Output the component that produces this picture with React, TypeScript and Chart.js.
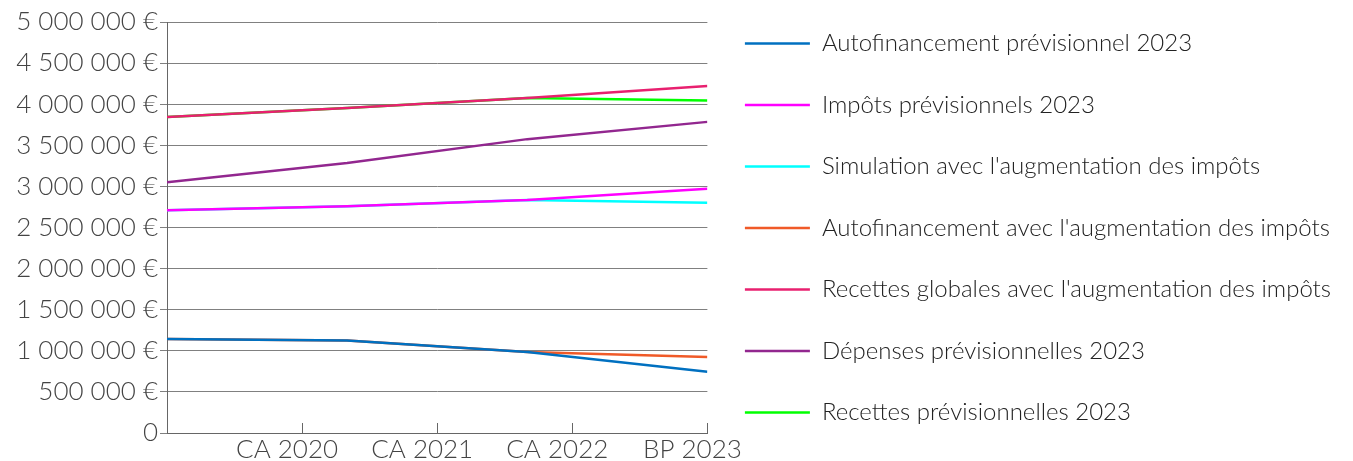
import React, { useEffect, useRef } from "react";
import { Chart, registerables } from "chart.js";

Chart.register(...registerables);

const categories = ["", "CA 2020", "CA 2021", "CA 2022", "BP 2023"];
const pointPositions = [0, 1, 2, 3];

const autofinancementPrev = [1145000, 1125000, 985000, 745000];
const impotsPrev = [2710000, 2760000, 2835000, 2970000];
const simulationImpots = [2710000, 2760000, 2835000, 2800000];
const autofinancementAug = [1145000, 1125000, 985000, 925000];
const recettesGlobalesAug = [3845000, 3955000, 4075000, 4220000];
const depensesPrev = [3050000, 3285000, 3575000, 3785000];
const recettesPrev = [3845000, 3955000, 4075000, 4045000];

const seriesLabels = [
  "Autofinancement prévisionnel 2023",
  "Impôts prévisionnels 2023",
  "Simulation avec l'augmentation des impôts",
  "Autofinancement avec l'augmentation des impôts",
  "Recettes globales avec l'augmentation des impôts",
  "Dépenses prévisionnelles 2023",
  "Recettes prévisionnelles 2023",
];
const seriesColors = ["#0070C0", "#FF00FF", "#00FFFF", "#F05A28", "#E8206F", "#92278F", "#00FF00"];
const seriesValues = [
  autofinancementPrev,
  impotsPrev,
  simulationImpots,
  autofinancementAug,
  recettesGlobalesAug,
  depensesPrev,
  recettesPrev,
];

const FONT = "Lato, 'Open Sans', sans-serif";

function formatEuro(v: number): string {
  if (v === 0) return "0";
  return String(v).replace(/\B(?=(\d{3})+(?!\d))/g, " ") + " €";
}

export default function App() {
  const ref = useRef<HTMLCanvasElement | null>(null);
  useEffect(() => {
    if (!ref.current) return;
    const chart = new Chart(ref.current, {
      type: "line",
      data: {
        datasets: seriesValues.map((vals, i) => ({
          label: seriesLabels[i],
          data: vals.map((y, j) => ({ x: pointPositions[j], y })),
          borderColor: seriesColors[i],
          backgroundColor: seriesColors[i],
          borderWidth: 2.5,
          pointRadius: 0,
          pointStyle: "line",
          tension: 0,
          xAxisID: "x",
          yAxisID: "y",
        })),
      },
      options: {
        animation: false,
        responsive: true,
        maintainAspectRatio: false,
        layout: { padding: { top: -14, left: 0, right: 4, bottom: 0 } },
        plugins: {
          tooltip: { enabled: false },
          legend: {
            position: "right",
            align: "start",
            maxWidth: 638,
            labels: {
              usePointStyle: true,
              pointStyle: "line",
              pointStyleWidth: 65,
              padding: 37.5,
              color: "#222",
              font: { family: FONT, size: 24, weight: 300 },
            },
          },
        },
        scales: {
          x: { type: "linear", min: 0, max: 3, display: false },
          x2: {
            type: "category",
            labels: categories,
            position: "bottom",
            offset: false,
            grid: { drawOnChartArea: false, drawTicks: true, tickLength: -10, color: "#666" },
            border: { color: "#666", width: 1 },
            ticks: {
              autoSkip: false,
              maxRotation: 0,
              labelOffset: -15,
              padding: 11,
              color: "#444",
              font: { family: FONT, size: 26, weight: 300 },
            },
            afterFit: (s: any) => {
              s.height = 33;
            },
          },
          y: {
            min: 0,
            max: 5000000,
            ticks: {
              stepSize: 500000,
              padding: 2,
              color: "#444",
              font: { family: FONT, size: 26, weight: 300 },
              callback: (v: any) => formatEuro(Number(v)),
            },
            grid: { color: "#808080", tickLength: 7, lineWidth: 1 },
            border: { color: "#666", width: 1 },
            afterFit: (s: any) => {
              s.width = 159;
              s.paddingTop = 14;
            },
          },
        },
      },
    });
    return () => chart.destroy();
  }, []);
  return (
    <div style={{ width: 1337, height: 458, position: "relative" }}>
      <canvas ref={ref} />
    </div>
  );
}
